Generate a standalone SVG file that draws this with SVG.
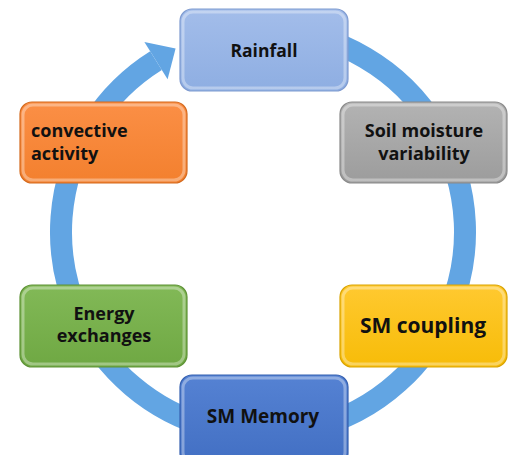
<svg xmlns="http://www.w3.org/2000/svg" width="520" height="455" viewBox="0 0 520 455">
<style>
.box{stroke-width:1.2}
.hl{fill:none;stroke:#ffffff;stroke-opacity:0.35;stroke-width:3}
.t{font-family:"Open Sans","Liberation Sans",sans-serif;font-weight:bold;fill:#111111}
.ring{fill:none;stroke:#62a5e3;stroke-width:22}
</style>
<defs>
<linearGradient id="gBlueL" x1="0" y1="0" x2="0" y2="1"><stop offset="0" stop-color="#a3bdea"/><stop offset="1" stop-color="#8eaee2"/></linearGradient>
<linearGradient id="gOr" x1="0" y1="0" x2="0" y2="1"><stop offset="0" stop-color="#fb8f46"/><stop offset="1" stop-color="#f3802e"/></linearGradient>
<linearGradient id="gGr" x1="0" y1="0" x2="0" y2="1"><stop offset="0" stop-color="#b3b3b3"/><stop offset="1" stop-color="#9c9c9c"/></linearGradient>
<linearGradient id="gGn" x1="0" y1="0" x2="0" y2="1"><stop offset="0" stop-color="#82b957"/><stop offset="1" stop-color="#6fa843"/></linearGradient>
<linearGradient id="gYe" x1="0" y1="0" x2="0" y2="1"><stop offset="0" stop-color="#ffc930"/><stop offset="1" stop-color="#f7bc08"/></linearGradient>
<linearGradient id="gBl" x1="0" y1="0" x2="0" y2="1"><stop offset="0" stop-color="#5582d3"/><stop offset="1" stop-color="#426fc3"/></linearGradient>
</defs>
<rect width="520" height="455" fill="#ffffff"/>
<g id="connectors">
<path class="ring" d="M280.6,30.8 A202,202 0 1 1 156,60.7"/>
<polygon points="144.4,42.1 175.6,48.5 167.6,79.3" fill="#62a5e3"/>
</g>
<g id="rainfall">
<rect class="box" x="180" y="9" width="168" height="82" rx="12" fill="url(#gBlueL)" stroke="#7f9bd0"/>
<rect class="hl" x="183" y="12" width="162" height="76" rx="10"/>
<text class="t" x="264" y="57" font-size="17.5" text-anchor="middle">Rainfall</text>
</g>
<g id="convective">
<rect class="box" x="20" y="102" width="167" height="81" rx="12" fill="url(#gOr)" stroke="#d46a1e"/>
<rect class="hl" x="23" y="105" width="161" height="75" rx="10"/>
<text class="t" x="31" y="137" font-size="18">convective</text>
<text class="t" x="31" y="160" font-size="18">activity</text>
</g>
<g id="soil">
<rect class="box" x="340" y="102" width="167" height="81" rx="12" fill="url(#gGr)" stroke="#8a8a8a"/>
<rect class="hl" x="343" y="105" width="161" height="75" rx="10"/>
<text class="t" x="424" y="137" font-size="18" text-anchor="middle">Soil moisture</text>
<text class="t" x="424" y="160" font-size="18" text-anchor="middle">variability</text>
</g>
<g id="energy">
<rect class="box" x="20" y="285" width="167" height="82" rx="12" fill="url(#gGn)" stroke="#5e9236"/>
<rect class="hl" x="23" y="288" width="161" height="76" rx="10"/>
<text class="t" x="104" y="320" font-size="18" text-anchor="middle">Energy</text>
<text class="t" x="104" y="342" font-size="18" text-anchor="middle">exchanges</text>
</g>
<g id="coupling">
<rect class="box" x="340" y="285" width="167" height="82" rx="12" fill="url(#gYe)" stroke="#d9a300"/>
<rect class="hl" x="343" y="288" width="161" height="76" rx="10"/>
<text class="t" x="423" y="333" font-size="21" text-anchor="middle">SM coupling</text>
</g>
<g id="memory">
<rect class="box" x="180" y="375" width="168" height="90" rx="12" fill="url(#gBl)" stroke="#3560b0"/>
<rect class="hl" x="183" y="378" width="162" height="84" rx="10"/>
<text class="t" x="263" y="423" font-size="19" text-anchor="middle">SM Memory</text>
</g>
</svg>
